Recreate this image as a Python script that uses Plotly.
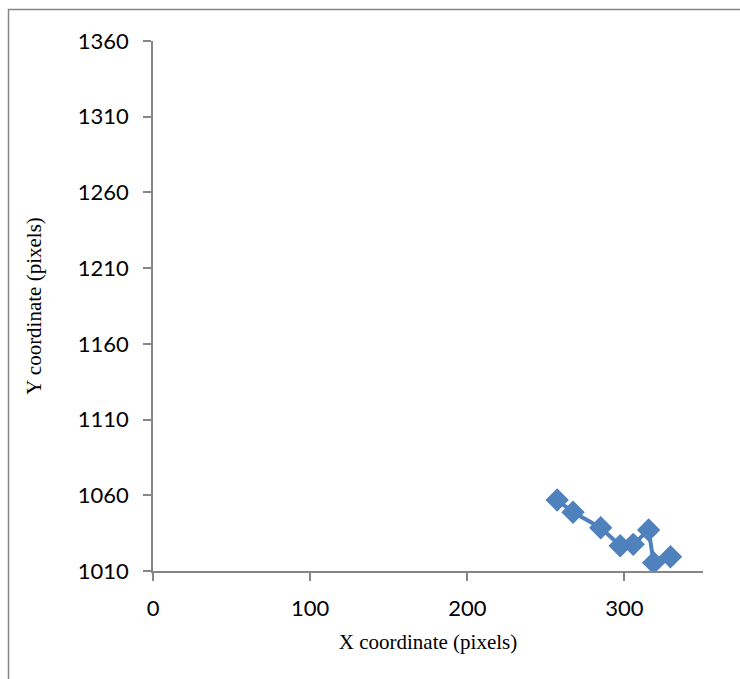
import plotly.graph_objects as go

# Tracked point positions (pixels)
x_px = [257.2, 267.3, 284.9, 297.3, 305.6, 315.4, 318.6, 329.3]
y_px = [1056.9, 1048.8, 1038.6, 1026.7, 1027.6, 1037.1, 1015.5, 1019.4]

x_ticks = [0, 100, 200, 300]
y_ticks = [1010, 1060, 1110, 1160, 1210, 1260, 1310, 1360]

BLUE = "#4F81BD"
AXIS_GRAY = "#868686"

fig = go.Figure(
    go.Scatter(
        x=x_px,
        y=y_px,
        mode="lines+markers",
        line=dict(color=BLUE, width=4),
        marker=dict(symbol="diamond", size=18, color=BLUE),
        showlegend=False,
    )
)

L, R, T, B = 153, 37, 41, 108
W, H = 740, 679
pw, ph = W - L - R, H - T - B

# outer chart border (left and top edges visible)
fig.add_shape(
    type="rect",
    xref="paper", yref="paper",
    x0=(8.5 - L) / pw, x1=(W + 20 - L) / pw,
    y0=-(H + 20 - (H - B)) / ph, y1=1 + (T - 9.5) / ph,
    line=dict(color=AXIS_GRAY, width=1.5),
    layer="below",
)

tick_font = dict(family="Lato, Carlito, sans-serif", size=22, color="#000000")
title_font = dict(family="Liberation Serif, Times New Roman, serif", size=21, color="#000000")

fig.update_layout(
    width=W, height=H,
    margin=dict(l=L, r=R, t=T, b=B),
    paper_bgcolor="white",
    plot_bgcolor="white",
    xaxis=dict(
        range=[0, 350],
        tickvals=x_ticks,
        showgrid=False, zeroline=False,
        showline=True, linecolor=AXIS_GRAY, linewidth=1.5,
        ticks="outside", ticklen=8, tickcolor=AXIS_GRAY, tickwidth=1.5,
        tickfont=tick_font,
        ticklabelstandoff=9,
        title=dict(text="X coordinate (pixels)", font=title_font, standoff=14),
    ),
    yaxis=dict(
        range=[1010, 1360],
        tickvals=y_ticks,
        showgrid=False, zeroline=False,
        showline=True, linecolor=AXIS_GRAY, linewidth=1.5,
        ticks="outside", ticklen=8, tickcolor=AXIS_GRAY, tickwidth=1.5,
        tickfont=tick_font,
        ticklabelstandoff=10,
        title=dict(text="Y coordinate (pixels)", font=title_font, standoff=30),
    ),
)

fig.write_html("out.html")
